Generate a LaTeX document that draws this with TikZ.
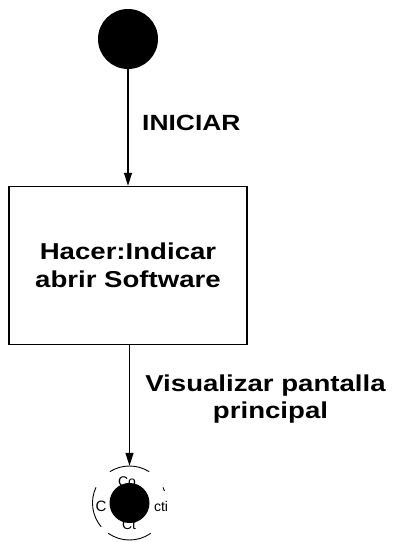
\documentclass[tikz,border=0pt]{standalone}
\usepackage{fontspec}
\setmainfont{Liberation Sans}
\newfontfamily\lab{Liberation Sans}[FakeStretch=1.2]
\usetikzlibrary{arrows.meta}

\tikzset{
  flow/.style={line width=1.4pt, -{Triangle[length=13pt,width=8pt]}},
  label text/.style={font=\lab\bfseries\fontsize{23pt}{27pt}\selectfont, inner sep=0pt},
  statebox/.style={draw, line width=1.5pt, minimum width=238pt, minimum height=158pt,
    align=center, font=\lab\bfseries\fontsize{23pt}{28pt}\selectfont},
  ringarc/.style={line width=0.9pt},
  dot/.style={circle, fill=black, inner sep=0pt},
  frag/.style={font=\fontsize{14pt}{14pt}\selectfont, inner sep=0pt}
}

\begin{document}
\begin{tikzpicture}[x=1pt, y=-1pt]
  \useasboundingbox[fill=white] (0,0) rectangle (395,542);

  % initial state
  \node[dot, minimum size=60pt] (start) at (128,39) {};

  % activity box
  \node[statebox] (act) at (128,265.5) {Hacer:Indicar\\abrir Software};

  % final state: broken ring, label fragments, filled core
  \node[circle, minimum size=74pt, inner sep=0pt] (ring) at (129.5,503) {};
  \begin{scope}[shift={(ring.center)}, x=1pt, y=1pt]
    \draw[ringarc] (58:37) arc[start angle=58, end angle=122, radius=37];
    \draw[ringarc] (155:37) arc[start angle=155, end angle=220, radius=37];
    \draw[ringarc] (235:37) arc[start angle=235, end angle=305, radius=37];
    \draw[ringarc] (19:37) arc[start angle=19, end angle=25, radius=37];
  \end{scope}
  \node[frag] (fragtop) at (127,482) {Co};
  \node[frag, font=\fontsize{15pt}{15pt}\selectfont] (fragleft) at (101,506) {C};
  \node[frag] (fragright) at (161,506) {cti};
  \node[frag] (fragbottom) at (129,525) {Ct};
  \node[dot, minimum size=40pt] (core) at (129.5,503) {};

  % transitions
  \draw[flow] (start) -- (start |- act.north);
  \draw[flow] (act.south -| ring.north) -- (ring.north);

  % transition labels
  \node[label text, font=\lab\bfseries\fontsize{22pt}{26pt}\selectfont, anchor=base west]
    (lbl1) at (142,130) {INICIAR};
  \node[label text, anchor=north, align=center] (lbl2) at (265.5,375)
    {Visualizar pantalla\\\hspace*{10pt}principal};
\end{tikzpicture}
\end{document}
